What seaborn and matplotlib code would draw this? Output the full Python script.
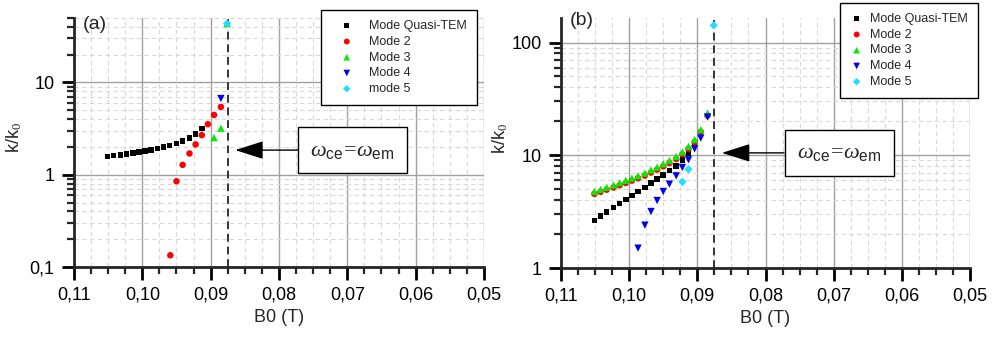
import matplotlib
matplotlib.use("Agg")
import matplotlib.pyplot as plt
import seaborn as sns
import numpy as np
from matplotlib.ticker import MultipleLocator, FuncFormatter, LogLocator, NullFormatter

# ---- data ----
# panel (a)
a_b_tem = [0.1051, 0.1042, 0.1032, 0.1023, 0.1014, 0.1005, 0.0996, 0.0987,
           0.0978, 0.0969, 0.0960, 0.0950, 0.0941, 0.0931, 0.0922, 0.0913]
a_k_tem = [1.58, 1.61, 1.64, 1.67, 1.71, 1.76, 1.80, 1.86,
           1.92, 1.99, 2.08, 2.18, 2.31, 2.50, 2.78, 3.17]
a_b_m2 = [0.0959, 0.0950, 0.0941, 0.0931, 0.0922, 0.0913, 0.0904, 0.0895, 0.0885]
a_k_m2 = [0.134, 0.85, 1.28, 1.70, 2.13, 2.69, 3.53, 4.45, 5.43]
a_b_m3 = [0.0895, 0.0885, 0.0876]
a_k_m3 = [2.53, 3.2, 43.5]
a_b_m4 = [0.0885]
a_k_m4 = [6.7]
a_b_m5 = [0.0876]
a_k_m5 = [43.5]

# panel (b)
b_b = [0.1051, 0.1042, 0.1033, 0.1023, 0.1014, 0.1005, 0.0996, 0.0987, 0.0977, 0.0968,
       0.0959, 0.0950, 0.0941, 0.0931, 0.0922, 0.0913, 0.0904, 0.0895, 0.0885]
b_k_tem = [2.63, 2.90, 3.15, 3.44, 3.73, 4.05, 4.39, 4.77, 5.17, 5.66,
           6.14, 6.70, 7.33, 8.07, 9.12, 10.5, 12.3]
b_k_m2 = [4.55, 4.74, 4.95, 5.18, 5.42, 5.68, 5.96, 6.25, 6.60, 7.03,
          7.46, 7.98, 8.53, 9.26, 10.2, 11.4, 13.1, 16.1, 22.5]
b_k_m3 = [4.77, 4.98, 5.20, 5.45, 5.70, 5.98, 6.27, 6.58, 6.95, 7.40,
          7.85, 8.40, 8.98, 9.75, 10.7, 12.0, 13.8, 16.9, 23.7]
b_b_m4 = [0.0987, 0.0977, 0.0968, 0.0959, 0.0950, 0.0941, 0.0931, 0.0922,
          0.0913, 0.0904, 0.0895, 0.0885]
b_k_m4 = [1.50, 2.40, 3.17, 3.97, 4.77, 5.55, 6.57, 7.79, 9.12, 11.4, 14.2, 21.8]
b_b_m5 = [0.0922, 0.0913, 0.0876]
b_k_m5 = [5.8, 7.5, 142]

b_resonance = 0.0875

sns.set_style("ticks")
plt.rcParams['font.family'] = ['Liberation Sans', 'DejaVu Sans']
plt.rcParams['mathtext.fontset'] = 'custom'
plt.rcParams['mathtext.rm'] = 'Liberation Serif'
plt.rcParams['mathtext.it'] = 'Liberation Serif:italic'
plt.rcParams['mathtext.sf'] = 'Liberation Sans'

fig = plt.figure(figsize=(9.93, 3.44), dpi=100)
ax_a = fig.add_axes([0.0745, 0.2238, 0.4129, 0.7239])
ax_b = fig.add_axes([0.5650, 0.2209, 0.4118, 0.7268])

styles = [("s", "black", 16), ("o", "red", 22), ("^", "#00ee00", 28),
          ("v", "#0000ee", 28), ("D", "#22ddff", 18)]


def comma(v, pos):
    s = f"{v:.2f}" if v < 0.5 else f"{v:g}"
    return s.replace(".", ",")


def ycomma(v, pos):
    return f"{v:g}".replace(".", ",")


def draw(ax, series, labels, ylim, legend_anchor, leg_kw, arrow_k, tag, tag_y, ylab_x):
    for (xs, ys), lab, (m, c, s) in zip(series, labels, styles):
        sns.scatterplot(x=xs, y=ys, marker=m, color=c, s=s, edgecolor="none",
                        label=lab, ax=ax, zorder=3)
    ax.set_yscale("log")
    ax.set_xlim(0.11, 0.05)
    ax.set_ylim(*ylim)
    ax.xaxis.set_major_locator(MultipleLocator(0.01))
    ax.xaxis.set_minor_locator(MultipleLocator(0.0025))
    ax.xaxis.set_major_formatter(FuncFormatter(comma))
    ax.yaxis.set_major_locator(LogLocator(base=10))
    ax.yaxis.set_minor_locator(LogLocator(base=10, subs=np.arange(2, 10)))
    ax.yaxis.set_major_formatter(FuncFormatter(ycomma))
    ax.yaxis.set_minor_formatter(NullFormatter())
    ax.grid(which="major", color="#a0a0a0", lw=1.0, ls="-", zorder=0)
    ax.grid(which="minor", color="#d8d8d8", lw=0.8, ls=(0, (4, 3)), zorder=0)
    for sp in ("top", "right"):
        ax.spines[sp].set_visible(False)
    for sp in ("left", "bottom"):
        ax.spines[sp].set_linewidth(2.0)
    ax.tick_params(which="major", direction="out", length=9, width=2.0,
                   labelsize=13, colors="black", pad=5)
    ax.tick_params(which="minor", direction="out", length=5, width=1.6)
    ax.set_xlabel("B0 (T)", fontsize=13, labelpad=4)
    ax.set_ylabel("k/k$_0$", fontsize=13)
    ax.yaxis.set_label_coords(ylab_x, 0.52)
    ax.axvline(b_resonance, color="#333333", lw=1.4, ls=(0, (4, 2.5)), zorder=2)
    leg = ax.legend(loc="upper right", bbox_to_anchor=legend_anchor,
                    fancybox=False, edgecolor="black", framealpha=1,
                    fontsize=9, markerscale=0.9, borderaxespad=0,
                    labelspacing=0.3, **leg_kw)
    leg.get_frame().set_linewidth(1.0)
    ax.annotate(r"$\omega_{\mathsf{ce}}\!=\!\omega_{\mathsf{em}}$", xy=(0.0864, arrow_k),
                xytext=(0.0692, arrow_k), fontsize=16, ha="center", va="center",
                bbox=dict(boxstyle="square,pad=0.55", fc="white", ec="black", lw=1.0),
                arrowprops=dict(arrowstyle="-|>,head_length=1.1,head_width=0.35",
                                color="black", lw=1.0, shrinkA=0, shrinkB=0),
                zorder=5)
    ax.text(0.022, tag_y, tag, transform=ax.transAxes, fontsize=14,
            ha="left", va="center")


labels_a = ["Mode Quasi-TEM", "Mode 2", "Mode 3", "Mode 4", "mode 5"]
labels_b = ["Mode Quasi-TEM", "Mode 2", "Mode 3", "Mode 4", "Mode 5"]

draw(ax_a,
     [(a_b_tem, a_k_tem), (a_b_m2, a_k_m2), (a_b_m3, a_k_m3),
      (a_b_m4, a_k_m4), (a_b_m5, a_k_m5)],
     labels_a, (0.1, 50), (0.983, 1.032),
     dict(handlelength=2.6, handletextpad=0.5, borderpad=0.8),
     1.85, "(a)", 0.972, -0.122)

draw(ax_b,
     [(b_b[:len(b_k_tem)], b_k_tem), (b_b, b_k_m2), (b_b, b_k_m3),
      (b_b_m4, b_k_m4), (b_b_m5, b_k_m5)],
     labels_b, (1, 165), (1.02, 1.06),
     dict(handlelength=1.0, handletextpad=0.6, borderpad=0.8),
     10.5, "(b)", 0.99, -0.125)

fig.savefig("out.png", dpi=100)
